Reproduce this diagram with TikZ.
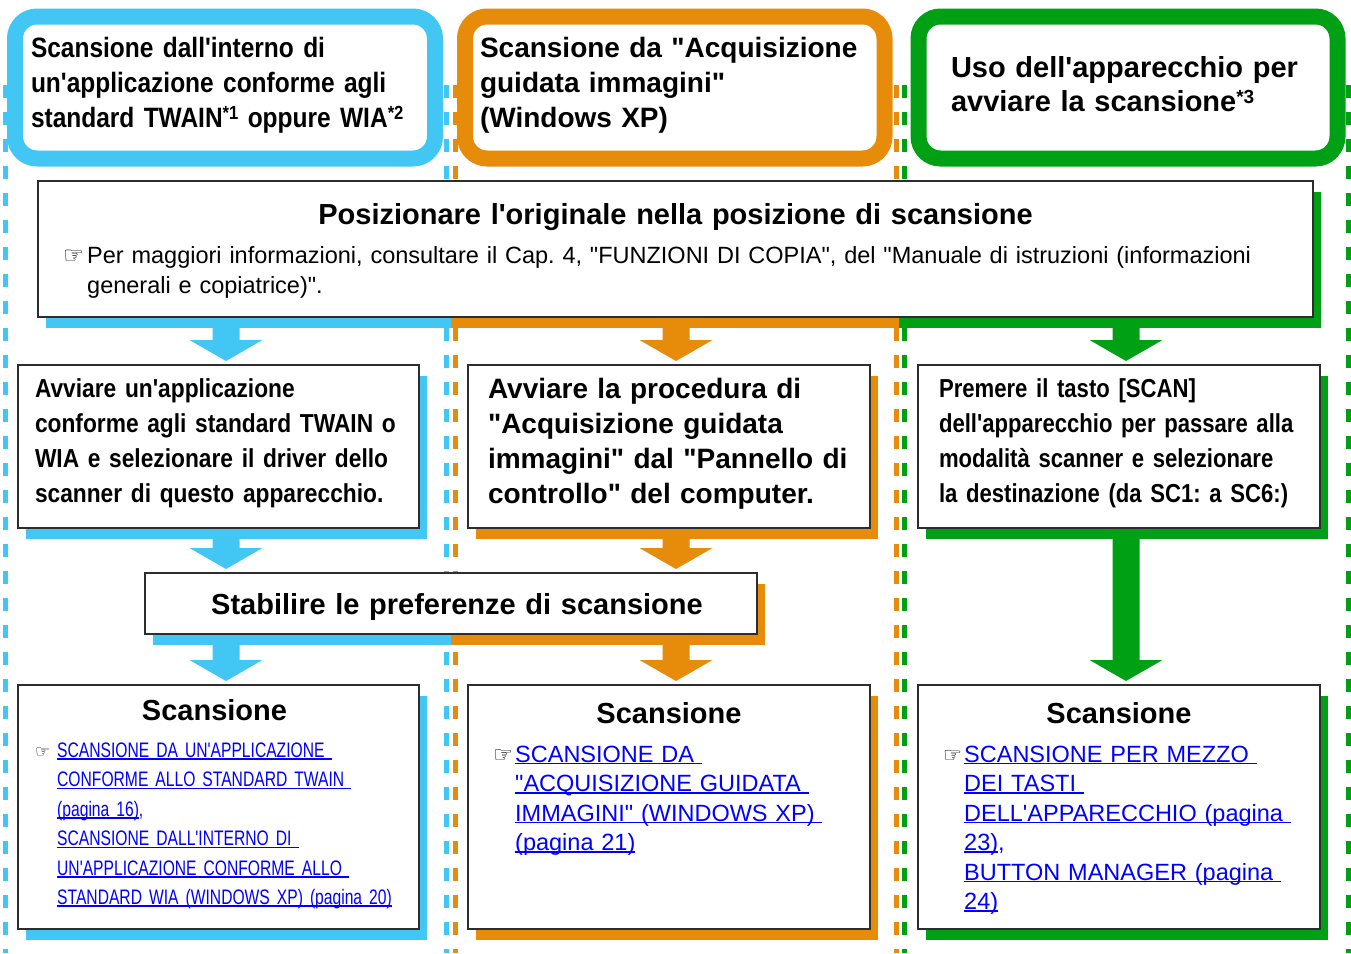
\documentclass[tikz,border=0pt]{standalone}
\usepackage{fontspec}
\usepackage{graphicx}
\setmainfont[Ligatures=TeXOff]{Liberation Sans}
\newfontfamily\narrowfont[Ligatures=TeXOff,FakeStretch=0.875]{Liberation Sans}
\newfontfamily\slimfont[Ligatures=TeXOff,FakeStretch=0.85]{Liberation Sans}
\newfontfamily\linkfont[Ligatures=TeXOff,FakeStretch=0.745]{Liberation Sans}
\newfontfamily\handfont{DejaVu Sans}
\frenchspacing
\usetikzlibrary{calc}
\usetikzlibrary{backgrounds}
\definecolor{skyblue}{RGB}{66,199,244}
\definecolor{amber}{RGB}{230,140,10}
\definecolor{leaf}{RGB}{0,160,20}
\definecolor{linkblue}{RGB}{0,0,255}
\definecolor{boxline}{RGB}{45,45,45}
\newcommand{\sups}[1]{\raisebox{8pt}{\fontsize{19}{19}\selectfont #1}}
\newcommand{\hand}[2]{\makebox[#1][l]{\resizebox{#2}{!}{\handfont ☞}}}
\newcommand{\lnk}[1]{\leavevmode\setbox0=\hbox{\color{linkblue}#1}\rlap{\color{linkblue}\rule[-2.4pt]{\wd0}{1.5pt}}\box0}
\newcommand{\boxshade}[2]{\fill[#1] ($(#2.south west)+(8,11)$) rectangle ($(#2.north east)+(8,11)$);}
\newcommand{\fatarrow}[4]{\path ($(#3.south -| #2)+(0,10)$) coordinate (fa-s) ($(#4.north -| #2)+(0,-4)$) coordinate (fa-t);
  \fill[#1] ($(fa-s)+(-13.5,0)$) -- ($(fa-s)+(13.5,0)$) -- ($(fa-t)+(13.5,-21)$) -- ($(fa-t)+(36.5,-21)$) -- (fa-t) -- ($(fa-t)+(-36.5,-21)$) -- ($(fa-t)+(-13.5,-21)$) -- cycle;}

\begin{document}
\begin{tikzpicture}[x=1pt, y=-1pt,
    lane/.style={draw=#1, line width=5pt, dash pattern=on 13pt off 14pt},
    headbox/.style={draw=#1, line width=16pt, rounded corners=22pt, fill=white, outer sep=0pt, inner ysep=0pt, anchor=north west, align=left},
    stepbox/.style={draw=boxline, line width=2.5pt, fill=white, outer sep=0pt, inner ysep=0pt, anchor=north west, align=left},
    linktext/.style={anchor=base west, inner sep=0pt, align=left, text width=#1}]
        \useasboundingbox (0,0) rectangle (1351,953);
        % lanes
        \foreach \lx/\lc in {5/skyblue, 446/skyblue, 455/amber, 896/amber, 904/leaf, 1348/leaf}
            \draw[lane=\lc] (\lx,85) -- (\lx,953);
        \coordinate (axB) at (226,0);
        \coordinate (axO) at (676,0);
        \coordinate (axG) at (1126,0);
        \coordinate (divA) at (451,0);
        \coordinate (divB) at (899,0);
        % headers
        \node[headbox=skyblue, inner xsep=16pt, text width=388pt, text height=40.5pt, text depth=101.5pt, font=\narrowfont\bfseries\fontsize{28}{35}\selectfont] (hdB) at (15,16.5)
            {Scansione dall'interno di\\un'applicazione conforme agli\\standard TWAIN\sups{*1} oppure WIA\sups{*2}};
        \node[headbox=amber, inner xsep=15pt, text width=389.5pt, text height=40.5pt, text depth=101.5pt, font=\bfseries\fontsize{28}{35}\selectfont] (hdO) at (465,16.5)
            {Scansione da "Acquisizione\\guidata immagini"\\(Windows XP)};
        \node[headbox=leaf, inner xsep=32.5pt, text width=354pt, text height=60.5pt, text depth=81.5pt, font=\bfseries\fontsize{29}{34}\selectfont] (hdG) at (918.5,16.5)
            {Uso dell'apparecchio per\\avviare la scansione\sups{*3}};
        % row1
        \node[stepbox, align=center, inner xsep=25pt, text width=1225pt, text height=43pt, text depth=93pt, font=\bfseries\fontsize{29}{35}\selectfont] (pos) at (38,181)
            {Posizionare l'originale nella posizione di scansione};
        \node[linktext=1215pt, font=\fontsize{23.5}{30}\selectfont] (posnote) at ($(pos.north west)+(49,82)$)
            {\llap{\hand{24pt}{21pt}}Per maggiori informazioni, consultare il Cap. 4, "FUNZIONI DI COPIA", del "Manuale di istruzioni (informazioni\\generali e copiatrice)".};
        % row2
        \node[stepbox, inner xsep=17pt, text width=367pt, text height=32pt, text depth=131pt, font=\narrowfont\bfseries\fontsize{26}{35}\selectfont] (avB) at (18,365)
            {Avviare un'applicazione\\conforme agli standard TWAIN o\\WIA e selezionare il driver dello\\scanner di questo apparecchio.};
        \node[stepbox, inner xsep=20pt, text width=362pt, text height=33pt, text depth=130pt, font=\bfseries\fontsize{28}{35}\selectfont] (avO) at (468,365)
            {Avviare la procedura di\\"Acquisizione guidata\\immagini" dal "Pannello di\\controllo" del computer.};
        \node[stepbox, inner xsep=21pt, text width=360pt, text height=32pt, text depth=131pt, font=\slimfont\bfseries\fontsize{26}{35}\selectfont] (avG) at (918,365)
            {Premere il tasto [SCAN]\\dell'apparecchio per passare alla\\modalità scanner e selezionare\\la destinazione (da SC1: a SC6:)};
        % row3
        \node[stepbox, inner xsep=10pt, text width=592pt, text height=41pt, text depth=20pt, align=center, font=\bfseries\fontsize{29}{35}\selectfont] (pref) at (145,573)
            {\hspace*{12pt}Stabilire le preferenze di scansione};
        % row4
        \node[stepbox, align=center, inner xsep=17pt, text width=367pt, text height=35pt, text depth=209pt, font=\bfseries\fontsize{29}{35}\selectfont] (scB) at (18,685)
            {\hspace*{-8pt}Scansione};
        \node[linktext=360pt, font=\linkfont\fontsize{21}{29.4}\selectfont] (scBlinks) at ($(scB.north west)+(39,72.5)$)
            {\llap{\hand{22pt}{15pt}}\lnk{SCANSIONE DA UN'APPLICAZIONE }\\\lnk{CONFORME ALLO STANDARD TWAIN }\\\lnk{(pagina 16)},\\\lnk{SCANSIONE DALL'INTERNO DI }\\\lnk{UN'APPLICAZIONE CONFORME ALLO }\\\lnk{STANDARD WIA (WINDOWS XP) (pagina 20)}};
        \node[stepbox, align=center, inner xsep=25pt, text width=352pt, text height=38pt, text depth=206pt, font=\bfseries\fontsize{29}{35}\selectfont] (scO) at (468,685)
            {Scansione};
        \node[linktext=350pt, font=\fontsize{23.5}{29.5}\selectfont] (scOlinks) at ($(scO.north west)+(47,77)$)
            {\llap{\hand{22pt}{20pt}}\lnk{SCANSIONE DA }\\\lnk{"ACQUISIZIONE GUIDATA }\\\lnk{IMMAGINI" (WINDOWS XP) }\\\lnk{(pagina 21)}};
        \node[stepbox, align=center, inner xsep=25pt, text width=352pt, text height=38pt, text depth=206pt, font=\bfseries\fontsize{29}{35}\selectfont] (scG) at (918,685)
            {Scansione};
        \node[linktext=350pt, font=\fontsize{23.5}{29.5}\selectfont] (scGlinks) at ($(scG.north west)+(46,77)$)
            {\llap{\hand{21pt}{19pt}}\lnk{SCANSIONE PER MEZZO }\\\lnk{DEI TASTI }\\\lnk{DELL'APPARECCHIO (pagina }\\\lnk{23)},\\\lnk{BUTTON MANAGER (pagina }\\\lnk{24)}};
        % shadows
        \begin{pgfonlayer}{background}
            \boxshade{leaf}{pos}
            \fill[amber] ($(pos.south west)+(8,11)$) rectangle (divB |- pos.north);
            \fill[skyblue] ($(pos.south west)+(8,11)$) rectangle (divA |- pos.north);
            \boxshade{skyblue}{avB}
            \boxshade{amber}{avO}
            \boxshade{leaf}{avG}
            \boxshade{amber}{pref}
            \fill[skyblue] ($(pref.south west)+(8,11)$) rectangle (divA |- pref.north);
            \boxshade{skyblue}{scB}
            \boxshade{amber}{scO}
            \boxshade{leaf}{scG}
        \end{pgfonlayer}
        % arrows
        \fatarrow{skyblue}{axB}{pos}{avB}
        \fatarrow{amber}{axO}{pos}{avO}
        \fatarrow{leaf}{axG}{pos}{avG}
        \fatarrow{skyblue}{axB}{avB}{pref}
        \fatarrow{amber}{axO}{avO}{pref}
        \fatarrow{skyblue}{axB}{pref}{scB}
        \fatarrow{amber}{axO}{pref}{scO}
        \fatarrow{leaf}{axG}{avG}{scG}
    \end{tikzpicture}
\end{document}
